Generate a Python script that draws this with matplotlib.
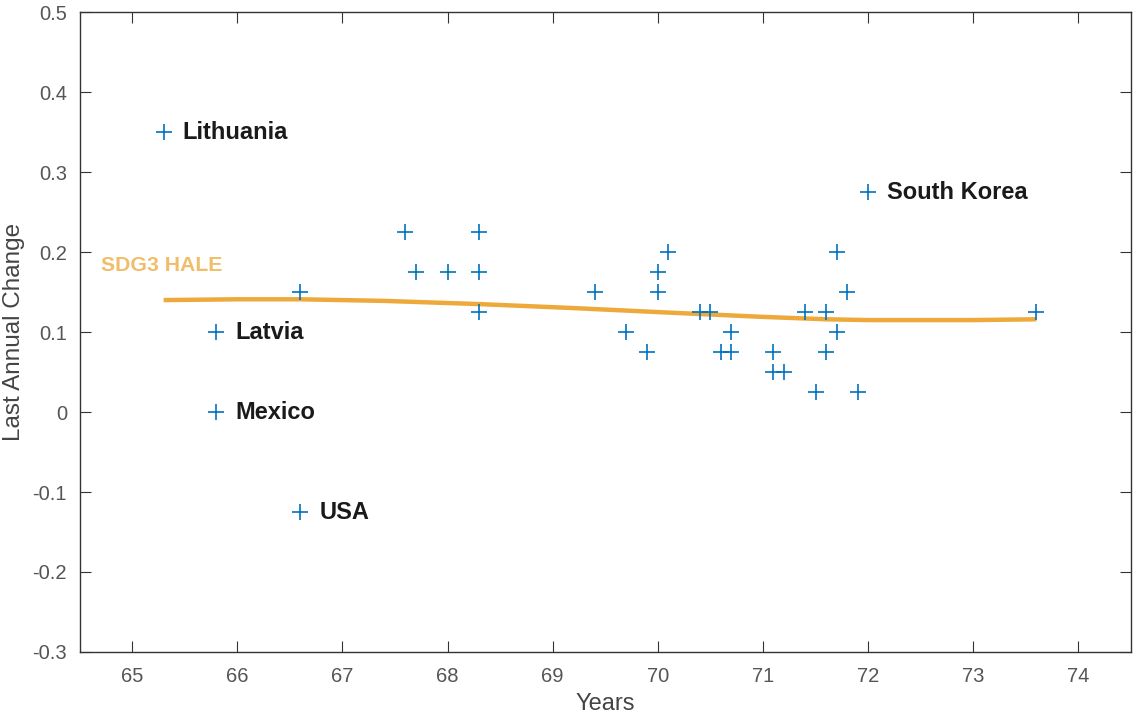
import matplotlib
matplotlib.use("Agg")
import matplotlib.pyplot as plt
import numpy as np

plt.rcParams["font.family"] = ["Liberation Sans", "DejaVu Sans"]

# labelled countries
countries = ["Lithuania", "Latvia", "Mexico", "USA", "South Korea"]
country_years = [65.3, 65.8, 65.8, 66.6, 72.0]
country_change = [0.35, 0.10, 0.0, -0.125, 0.275]

# other (unlabelled) countries
other_years = [66.6, 67.6, 67.7, 68.0, 68.3, 68.3, 68.3, 69.4, 69.7, 69.9,
               70.0, 70.0, 70.1, 70.4, 70.5, 70.6, 70.7, 70.7, 71.1, 71.1,
               71.2, 71.4, 71.5, 71.6, 71.6, 71.7, 71.7, 71.8, 71.9, 73.6]
other_change = [0.15, 0.225, 0.175, 0.175, 0.225, 0.175, 0.125, 0.15, 0.10, 0.075,
                0.175, 0.15, 0.20, 0.125, 0.125, 0.075, 0.075, 0.10, 0.075, 0.05,
                0.05, 0.125, 0.025, 0.125, 0.075, 0.20, 0.10, 0.15, 0.025, 0.125]

# SDG3 HALE trend curve
trend_years = [65.3, 66.0, 66.6, 67.4, 68.3, 69.2, 70.0, 70.5, 71.0, 71.6, 72.0, 72.6, 73.0, 73.6]
trend_change = [0.140, 0.141, 0.141, 0.139, 0.135, 0.130, 0.125, 0.122, 0.119, 0.116,
                0.115, 0.115, 0.115, 0.116]

blue = "#0072BD"
orange = "#EDAA3A"

fig = plt.figure(figsize=(11.36, 7.17), dpi=100)
ax = fig.add_axes([0.070, 0.0907, 0.9256, 0.8923])

ax.plot(trend_years, trend_change, color=orange, lw=3.2, solid_capstyle="butt", zorder=2)
ax.plot(other_years, other_change, "+", color=blue, ms=11, mew=1.2, zorder=3)
ax.plot(country_years, country_change, "+", color=blue, ms=11, mew=1.2, zorder=3)

for name, x, y in zip(countries, country_years, country_change):
    ax.text(x + 0.18, y, name, fontsize=17, fontweight="bold", color="#1a1a1a",
            va="center", ha="left")

ax.text(64.7, 0.183, "SDG3 HALE", fontsize=15.3, fontweight="bold", color="#F0BE6A",
        va="center", ha="left")

ax.set_xlim(64.5, 74.5)
ax.set_ylim(-0.3, 0.5)
ax.set_xticks(np.arange(65, 75, 1))
ax.set_yticks(np.round(np.arange(-0.3, 0.51, 0.1), 1))
ax.set_yticklabels(["-0.3", "-0.2", "-0.1", "0", "0.1", "0.2", "0.3", "0.4", "0.5"])
ax.tick_params(direction="in", top=True, right=True, length=8, width=0.8,
               colors="#333333", labelcolor="#555555", labelsize=14.5)
ax.tick_params(axis="x", pad=11)
ax.tick_params(axis="y", pad=9)
for sp in ax.spines.values():
    sp.set_color("#333333")
    sp.set_linewidth(1.0)

ax.set_xlabel("Years", fontsize=17, color="#444444", labelpad=5)
ax.set_ylabel("Last Annual Change", fontsize=17.5, color="#444444", labelpad=5)

fig.savefig("out.png", dpi=100)
